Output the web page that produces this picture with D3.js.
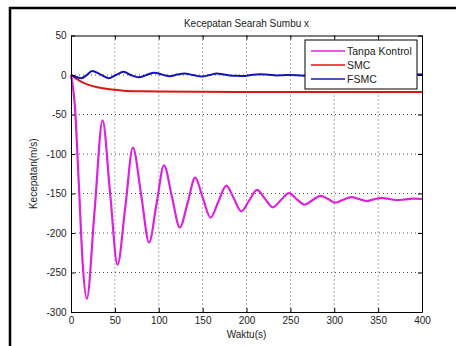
<!DOCTYPE html>
<html>
<head>
<meta charset="utf-8">
<script src="https://cdn.jsdelivr.net/npm/d3@7"></script>
<style>
  html, body { margin: 0; padding: 0; background: #fff; }
  svg { display: block; font-family: "Liberation Sans", Arial, sans-serif; }
</style>
</head>
<body>
<svg id="chart" width="456" height="346"></svg>
<script>
// ---- data ----
const titleText = "Kecepatan Searah Sumbu x";
const xLabelText = "Waktu(s)";
const yLabelText = "Kecepatan(m/s)";
const seriesNames = ["Tanpa Kontrol", "SMC", "FSMC"];
const xTicks = [0, 50, 100, 150, 200, 250, 300, 350, 400];
const yTicks = [50, 0, -50, -100, -150, -200, -250, -300];

const tanpaT = [0, 4.5, 9, 13.5, 18, 27, 36, 44.5, 53, 62, 70.5, 80, 89, 97.5, 106, 115, 124, 133, 141.5, 150, 159, 168, 177, 185.5, 194, 203, 212, 221, 230, 239, 248.5, 257, 266, 275, 284.5, 293, 301, 310, 319.5, 328, 336.5, 345, 354, 363, 372, 381, 390, 400];
const tanpaV = [0, -41, -140, -242, -283, -170, -57.5, -149, -240, -166, -92, -152, -212, -163, -114.5, -154, -193, -161.5, -130, -155, -180.5, -160, -140, -156, -172.5, -159, -145.5, -156.5, -167.5, -158.5, -149.5, -157, -164, -158.5, -153, -157, -161.5, -158, -154.5, -157, -159.5, -157.5, -155.5, -157, -158.5, -157.5, -156.5, -157];

const smcT = [0, 5, 10, 15, 20, 30, 40, 50, 60, 80, 100, 150, 200, 300, 400];
const smcV = [0, -4, -7.5, -10.2, -12.5, -15.5, -17.5, -18.8, -19.8, -20.6, -21, -21.3, -21.4, -21.5, -21.5];

const fsmcT = [0, 6, 12, 18, 24, 33, 43, 51, 60, 68, 77, 86, 95, 104, 113, 121, 129, 139, 149, 158, 166, 174, 181, 188, 196, 205, 215, 225, 234, 242, 250, 265, 280, 295, 310, 325, 340, 355, 370, 385, 400];
const fsmcV = [0, -2.5, -4, 0, 5, 1, -4, 0, 4, 0, -3, 0, 3, 0.5, -1.5, 0.5, 2, 0, -2, 0, 2, 0.5, -0.5, -1, -1.3, 0, 1, 0.3, -0.5, -0.2, 0, -0.8, 0.2, -0.6, 0.3, -0.5, 0.4, -0.3, 0.5, 0.2, 0.8];

const colors = ["#dd22dd", "#dd1515", "#1515b5"];

// ---- drawing ----
const svg = d3.select("#chart");
svg.append("rect").attr("width", 456).attr("height", 346).attr("fill", "#fff");

// outer frame (top and left edges visible)
svg.append("line").attr("x1", 9).attr("x2", 456).attr("y1", 8).attr("y2", 8)
  .attr("stroke", "#000").attr("stroke-width", 2.5);
svg.append("line").attr("x1", 10).attr("x2", 10).attr("y1", 7).attr("y2", 346)
  .attr("stroke", "#000").attr("stroke-width", 2.5);

const L = 71, R = 422, T = 35.5, B = 312;
const x = d3.scaleLinear().domain([0, 400]).range([L, R]);
const y = d3.scaleLinear().domain([-300, 50]).range([B, T]);

// grid
const grid = svg.append("g");
xTicks.filter(t => t > 0 && t < 400).forEach(t => {
  grid.append("line").attr("x1", x(t)).attr("x2", x(t)).attr("y1", T).attr("y2", B)
    .attr("stroke", "#555").attr("stroke-width", 1).attr("stroke-dasharray", "1,3");
});
yTicks.filter(t => t > -300 && t < 50).forEach(t => {
  grid.append("line").attr("x1", L).attr("x2", R).attr("y1", y(t)).attr("y2", y(t))
    .attr("stroke", "#555").attr("stroke-width", 1).attr("stroke-dasharray", "1,3");
});

// lines
const line = d3.line().x(d => x(d[0])).y(d => y(d[1])).curve(d3.curveMonotoneX);
const series = [
  d3.zip(tanpaT, tanpaV),
  d3.zip(smcT, smcV),
  d3.zip(fsmcT, fsmcV)
];
const plot = svg.append("g");
series.forEach((s, i) => {
  plot.append("path").datum(s).attr("d", line).attr("fill", "none")
    .attr("stroke", colors[i]).attr("stroke-width", i === 0 ? 2.2 : 2).attr("stroke-linejoin", "round");
});

// axes (inward ticks on all four sides)
const fmt = d => String(d);
const axB = svg.append("g").attr("transform", `translate(0,${B})`)
  .call(d3.axisBottom(x).tickValues(xTicks).tickSizeInner(-4).tickSizeOuter(0).tickPadding(5).tickFormat(fmt));
const axT = svg.append("g").attr("transform", `translate(0,${T})`)
  .call(d3.axisTop(x).tickValues(xTicks).tickSizeInner(-4).tickSizeOuter(0).tickFormat(""));
const axLft = svg.append("g").attr("transform", `translate(${L},0)`)
  .call(d3.axisLeft(y).tickValues(yTicks).tickSizeInner(-4).tickSizeOuter(0).tickPadding(4.5).tickFormat(fmt));
const axRt = svg.append("g").attr("transform", `translate(${R},0)`)
  .call(d3.axisRight(y).tickValues(yTicks).tickSizeInner(-4).tickSizeOuter(0).tickFormat(""));
[axB, axT, axLft, axRt].forEach(a => {
  a.select(".domain").attr("stroke", "#000").attr("stroke-width", 1);
  a.selectAll(".tick line").attr("stroke", "#000");
  a.selectAll("text").attr("font-size", 10).attr("fill", "#222")
    .attr("font-family", "'Liberation Sans', Arial, sans-serif");
});

// title and labels
svg.append("text").attr("x", (L + R) / 2).attr("y", 27).attr("text-anchor", "middle")
  .attr("font-size", 10).attr("fill", "#222").text(titleText);
svg.append("text").attr("x", (L + R) / 2).attr("y", 338).attr("text-anchor", "middle")
  .attr("font-size", 10).attr("fill", "#222").text(xLabelText);
svg.append("text").attr("transform", `translate(37,${(T + B) / 2}) rotate(-90)`)
  .attr("text-anchor", "middle").attr("font-size", 10).attr("fill", "#222").text(yLabelText);

// legend
const lg = svg.append("g");
lg.append("rect").attr("x", 305).attr("y", 40).attr("width", 112).attr("height", 49)
  .attr("fill", "#fff").attr("stroke", "#000").attr("stroke-width", 1);
seriesNames.forEach((n, i) => {
  const yy = 51 + i * 14;
  lg.append("line").attr("x1", 311).attr("x2", 345).attr("y1", yy).attr("y2", yy)
    .attr("stroke", colors[i]).attr("stroke-width", 1.5);
  lg.append("text").attr("x", 347).attr("y", yy + 3.5).attr("font-size", 10.5)
    .attr("fill", "#222").text(n);
});
</script>
</body>
</html>
